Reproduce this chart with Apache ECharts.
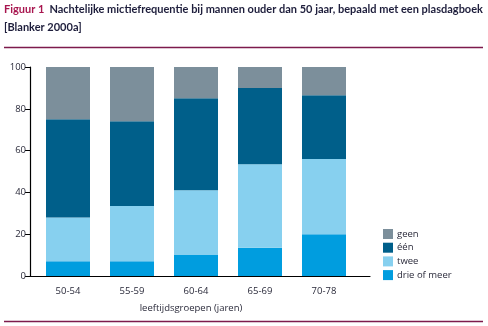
<!DOCTYPE html>
<html>
<head>
<meta charset="utf-8">
<script src="https://cdn.jsdelivr.net/npm/echarts@6/dist/echarts.min.js"></script>
<style>
  html, body { margin: 0; padding: 0; background: #ffffff; }
  #chart { width: 488px; height: 326px; }
</style>
</head>
<body>
<div id="chart"></div>
<script>
// Age groups (jaren)
const categories = ['50-54', '55-59', '60-64', '65-69', '70-78'];

// Share of men (%) by number of nightly voids, from the bottom of each stack up
const drieOfMeer = [7, 7, 10, 13.5, 20];
const twee = [21, 26.5, 31, 40, 36];
const een = [47, 40.5, 44, 36.5, 30.5];
const geen = [25, 26, 15, 10, 13.5];

const yTicks = [0, 20, 40, 60, 80, 100];

const colors = {
  geen: '#7c8f9b',
  een: '#005f8a',
  twee: '#87d0ef',
  drie: '#009ddf'
};

const textFont = '"Open Sans", "Noto Sans", sans-serif';
const titleFont = 'Lato, "Open Sans", sans-serif';
const ruleColor = '#7d1b4c';

const chart = echarts.init(document.getElementById('chart'), null, { renderer: 'canvas' });

function bar(name, data, color) {
  return {
    name: name,
    type: 'bar',
    stack: 'total',
    data: data,
    barWidth: 44,
    xAxisIndex: 0,
    yAxisIndex: 0,
    itemStyle: { color: color },
    emphasis: { disabled: true }
  };
}

chart.setOption({
  animation: false,
  backgroundColor: '#ffffff',
  title: {
    left: 4,
    top: 0,
    padding: 0,
    text: '{red|Figuur 1} {dark|Nachtelijke mictiefrequentie bij mannen ouder dan 50 jaar, bepaald met een plasdagboek}\n{dark|[Blanker 2000a]}',
    textStyle: {
      rich: {
        red: { color: '#a8164f', fontFamily: titleFont, fontSize: 11, fontWeight: 'bold', lineHeight: 18 },
        dark: { color: '#1e1e3c', fontFamily: titleFont, fontSize: 11, fontWeight: 'bold', lineHeight: 18 }
      }
    }
  },
  legend: {
    orient: 'vertical',
    left: 378,
    top: 224,
    itemWidth: 10,
    itemHeight: 10,
    itemGap: 3.7,
    icon: 'rect',
    data: ['geen', 'één', 'twee', 'drie of meer'],
    textStyle: { color: '#2a2a3a', fontFamily: textFont, fontSize: 9.5, padding: [0, 0, 0, -1] }
  },
  grid: [
    // bars
    { left: 36, width: 320, top: 67, height: 209 },
    // full-width frame carrying the axis lines and value labels
    { left: 30, width: 340, top: 67, height: 209 }
  ],
  xAxis: [
    {
      type: 'category',
      gridIndex: 0,
      data: categories,
      axisLine: { show: false },
      axisTick: { show: false },
      axisLabel: { color: '#2a2a3a', fontFamily: textFont, fontSize: 9.5, margin: 10 },
      name: 'leeftijdsgroepen (jaren)',
      nameLocation: 'middle',
      nameGap: 27,
      nameTextStyle: { color: '#2a2a3a', fontFamily: textFont, fontSize: 9.5, padding: [0, 10, 0, 0] }
    },
    {
      type: 'value',
      gridIndex: 1,
      min: 0,
      max: 1,
      axisLine: { show: true, lineStyle: { color: '#000000', width: 1.2 } },
      axisTick: { show: false },
      axisLabel: { show: false },
      splitLine: { show: false }
    }
  ],
  yAxis: [
    {
      type: 'value',
      gridIndex: 0,
      min: 0,
      max: 100,
      interval: 20,
      show: false
    },
    {
      type: 'value',
      gridIndex: 1,
      min: yTicks[0],
      max: yTicks[yTicks.length - 1],
      interval: yTicks[1] - yTicks[0],
      axisLine: { show: true, lineStyle: { color: '#000000', width: 1.2 } },
      axisTick: { show: true, inside: false, length: 5, lineStyle: { color: '#000000', width: 1 } },
      axisLabel: { color: '#2a2a3a', fontFamily: textFont, fontSize: 9.5, margin: 4 },
      splitLine: { show: false }
    }
  ],
  series: [
    bar('drie of meer', drieOfMeer, colors.drie),
    bar('twee', twee, colors.twee),
    bar('één', een, colors.een),
    bar('geen', geen, colors.geen)
  ],
  graphic: [
    {
      type: 'line',
      shape: { x1: 4, y1: 47.5, x2: 483, y2: 47.5 },
      style: { stroke: ruleColor, lineWidth: 1.5 }
    },
    {
      type: 'line',
      shape: { x1: 4, y1: 321.5, x2: 483, y2: 321.5 },
      style: { stroke: ruleColor, lineWidth: 1.5 }
    }
  ]
});
</script>
</body>
</html>
